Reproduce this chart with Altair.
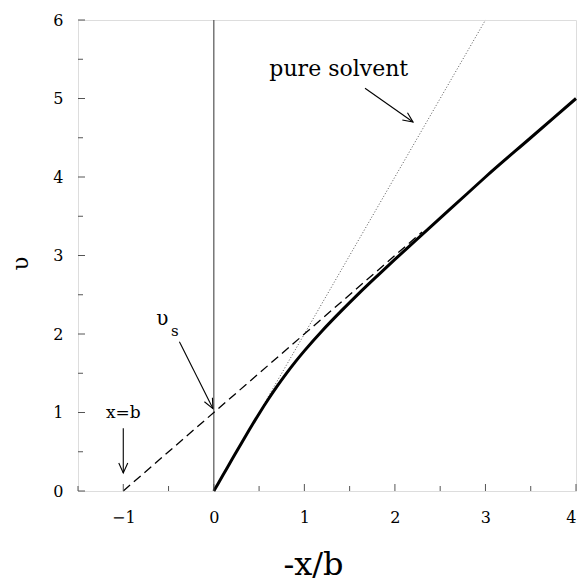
import altair as alt
import pandas as pd

# ---- data ----
curve_x = [0.0, 0.1, 0.2, 0.3, 0.4, 0.5, 0.6, 0.7, 0.8, 0.9, 1.0, 1.2, 1.4, 1.6, 1.8, 2.0,
           2.2, 2.4, 2.6, 2.8, 3.0, 3.5, 4.0]
curve_v = [0.0, 0.2, 0.4, 0.6, 0.795, 0.985, 1.165, 1.335, 1.495, 1.645, 1.785, 2.045, 2.285,
           2.515, 2.735, 2.95, 3.16, 3.37, 3.58, 3.79, 4.0, 4.5, 5.0]

solvent_x = [0.55, 3.0]
solvent_v = [1.1, 6.0]

limit_x = [-1.0, 2.3]
limit_v = [0.0, 3.3]

zero_x = [0.0, 0.0]
zero_v = [0.0, 6.0]

x_major = [-1, 0, 1, 2, 3, 4]
x_minor = [-1.5, -0.5, 0.5, 1.5, 2.5, 3.5]
y_major = [0, 1, 2, 3, 4, 5, 6]
y_minor = [0.5, 1.5, 2.5, 3.5, 4.5, 5.5]

label_text = ["pure solvent", "x=b", "\u03c5", "s"]
label_x = [1.38, -1.0, -0.57, -0.43]
label_v = [5.37, 0.99, 2.19, 2.04]
label_size = [22, 17, 20, 15]

arrow_x1 = [1.67, -1.0, -0.38]
arrow_v1 = [5.13, 0.80, 1.90]
arrow_x2 = [2.20, -1.0, -0.01]
arrow_v2 = [4.70, 0.23, 1.05]
arrow_angle = [125, 180, 153]

# ---- tables ----
curve = pd.DataFrame({"x": curve_x, "v": curve_v})
solvent = pd.DataFrame({"x": solvent_x, "v": solvent_v})
limit = pd.DataFrame({"x": limit_x, "v": limit_v})
zero = pd.DataFrame({"x": zero_x, "v": zero_v})
labels = pd.DataFrame({"t": label_text, "x": label_x, "v": label_v, "s": label_size})
arrows = pd.DataFrame({"x": arrow_x1, "v": arrow_v1, "x2": arrow_x2, "v2": arrow_v2,
                       "a": arrow_angle})

W, H = 498, 471
SERIF = "DejaVu Serif"

xs = alt.Scale(domain=[-1.5, 4], nice=False, zero=False)
ys = alt.Scale(domain=[0, 6], nice=False, zero=False)

xa = alt.Axis(
    values=x_major, title="-x/b", ticks=False, domain=False, grid=False,
    labelFont=SERIF, labelFontSize=16, labelColor="black", labelPadding=18,
    titleFont=SERIF, titleFontSize=32, titleFontWeight="normal", titleColor="black",
    titlePadding=24, titleX=235, format="d")
ya = alt.Axis(
    values=y_major, title="\u03c5", ticks=False, domain=False, grid=False,
    labelFont=SERIF, labelFontSize=16, labelColor="black", labelPadding=15,
    titleFont=SERIF, titleFontSize=23, titleFontWeight="normal", titleColor="black",
    titlePadding=20, titleY=243, format="d")

X = lambda f="x": alt.X(f"{f}:Q", scale=xs, axis=xa, title="-x/b")
Y = lambda f="v": alt.Y(f"{f}:Q", scale=ys, axis=ya, title="\u03c5")

main = alt.Chart(curve).mark_line(color="black", strokeWidth=3, interpolate="monotone").encode(
    x=X(), y=Y())

def ln(df, **kw):
    return alt.Chart(df).mark_line(**kw).encode(x=X(), y=Y())

solvent_l = ln(solvent, color="#555", strokeWidth=1, strokeDash=[1, 2])
limit_l = ln(limit, color="black", strokeWidth=1.3, strokeDash=[9, 5])
zero_l = ln(zero, color="#555", strokeWidth=1.2)

def xt(vals, length):
    return alt.Chart(pd.DataFrame({"x": vals})).mark_rule(color="#555", strokeWidth=1).encode(
        x=X(), y=alt.value(H), y2=alt.value(H - length))

def yt(vals, length):
    return alt.Chart(pd.DataFrame({"v": vals})).mark_rule(color="#555", strokeWidth=1).encode(
        y=Y(), x=alt.value(0), x2=alt.value(length))

text = alt.Chart(labels).mark_text(font=SERIF, color="black").encode(
    x=X(), y=Y(), text="t:N", size=alt.Size("s:Q", scale=None, legend=None))

shafts = alt.Chart(arrows).mark_rule(color="black", strokeWidth=1.1).encode(
    x=X(), y=Y(), x2="x2:Q", y2="v2:Q")

heads = alt.Chart(arrows).mark_point(
    shape="M-0.5,1.1L0,0L0.5,1.1", filled=False, color="black", strokeWidth=1.1,
    size=324, opacity=1).encode(
    x=X("x2"), y=Y("v2"), angle=alt.Angle("a:Q", scale=None))

chart = alt.layer(
    zero_l, solvent_l, limit_l, main,
    xt(x_major, 7), xt(x_minor, 5), yt(y_major, 7), yt(y_minor, 5),
    shafts, heads, text,
).properties(
    width=W, height=H,
    autosize=alt.AutoSizeParams(type="none"),
    padding={"left": 78, "top": 20, "right": 8, "bottom": 92},
).configure_view(stroke="#777", strokeWidth=1.2).configure(background="white")

chart.save("out.html", embed_options={"renderer": "svg", "actions": False})
